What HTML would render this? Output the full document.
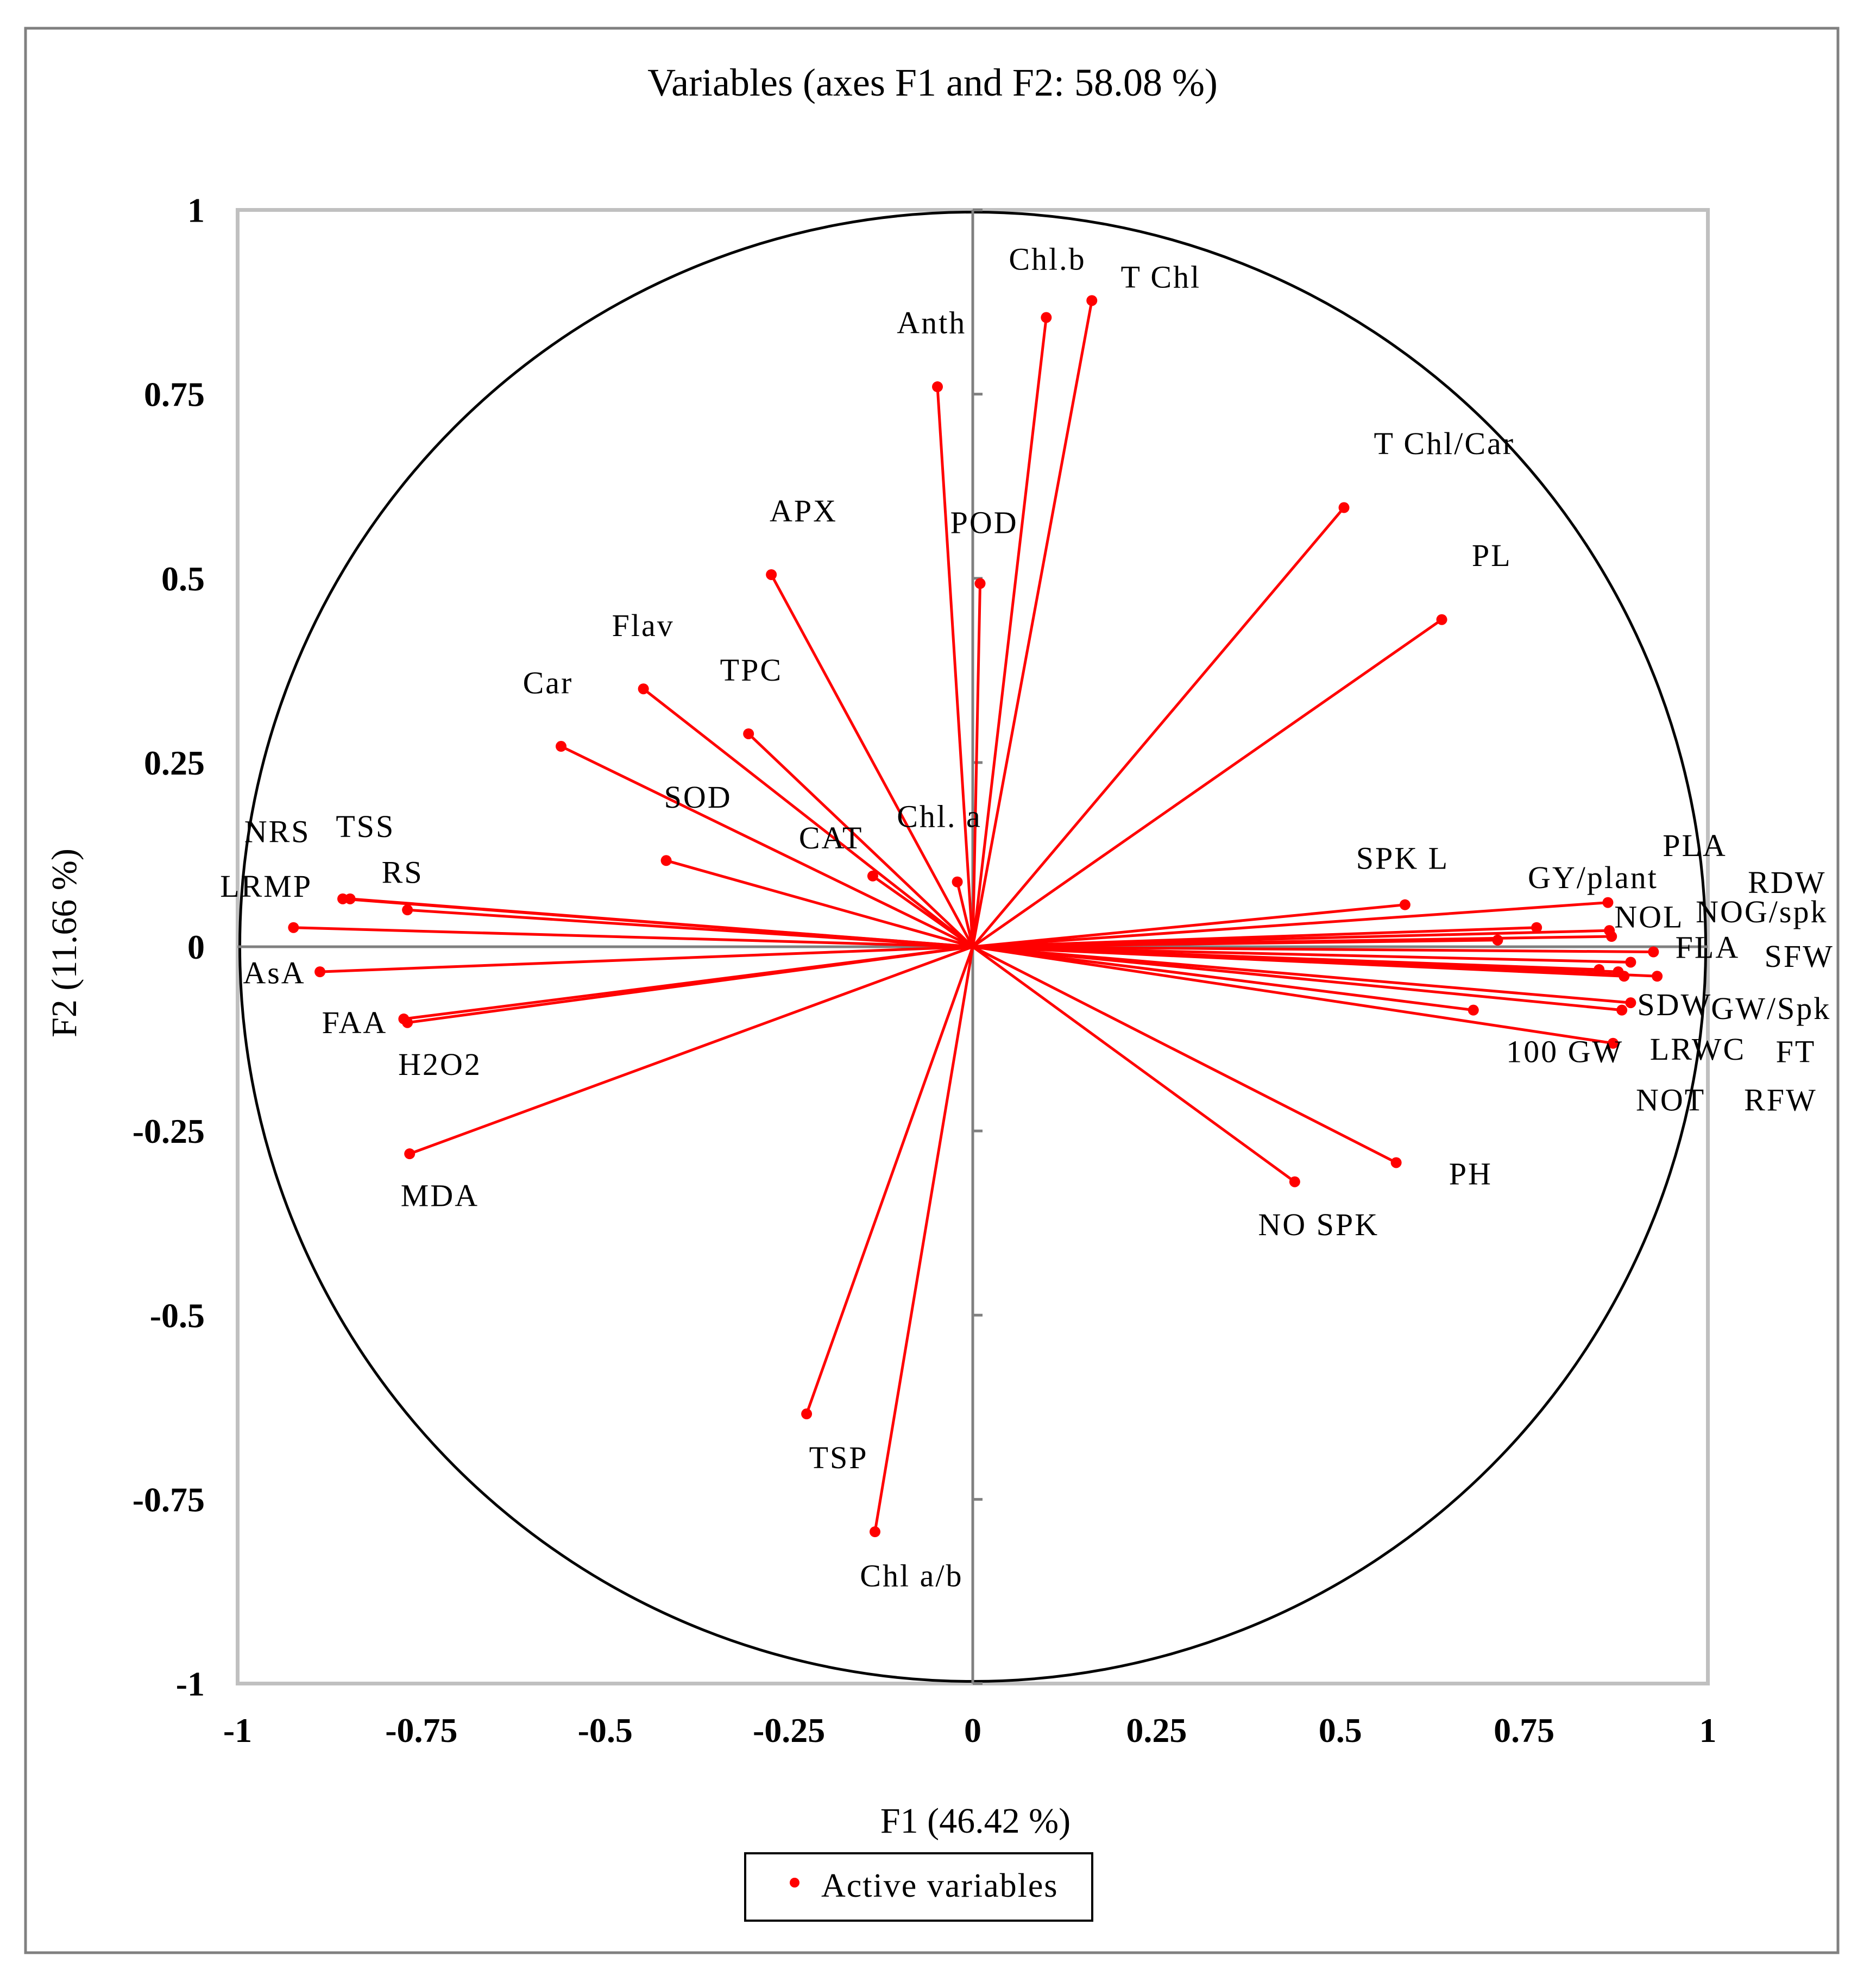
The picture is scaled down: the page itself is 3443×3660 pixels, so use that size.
<!DOCTYPE html>
<html><head><meta charset="utf-8"><style>
html,body{margin:0;padding:0;background:#fff}
svg{display:block}
text{font-family:"Liberation Serif",serif}
</style></head><body>
<svg id="chart" width="3443" height="3660" viewBox="0 0 3443 3660" xmlns="http://www.w3.org/2000/svg">
<rect x="47" y="52" width="3337" height="3543" fill="#fff" stroke="#808080" stroke-width="5"/>
<text x="1717" y="176" font-size="72" text-anchor="middle">Variables (axes F1 and F2: 58.08 %)</text>
<rect x="437.5" y="386.5" width="2707" height="2713" fill="none" stroke="#c0c0c0" stroke-width="7"/>
<g id="axes"></g>
<g id="marks"></g>
<g id="labels"></g>
<text x="1796" y="3374" font-size="66" text-anchor="middle">F1 (46.42 %)</text>
<text transform="translate(140,1736) rotate(-90)" font-size="66" text-anchor="middle">F2 (11.66 %)</text>
<g>
<rect x="1372" y="3412" width="639" height="124" fill="#fff" stroke="#000" stroke-width="4"/>
<circle cx="1463" cy="3466" r="9" fill="#ff0000"/>
<text x="1512" y="3492" font-size="62" letter-spacing="2">Active variables</text>
</g>
</svg>
<script>
const varNames = ["Chl.b","T Chl","Anth","T Chl/Car","PL","APX","POD","Flav","TPC","Car","SOD","CAT","Chl. a","NRS","TSS","RS","LRMP","AsA","FAA","H2O2","MDA","TSP","Chl a/b","NO SPK","PH","SPK L","GY/plant","PLA","RDW","NOL","NOG/spk","FLA","SFW","SDW","GW/Spk","100 GW","LRWC","FT","NOT","RFW"];
const f1Values = [0.100,0.162,-0.048,0.505,0.638,-0.274,0.010,-0.448,-0.305,-0.560,-0.417,-0.136,-0.021,-0.857,-0.847,-0.769,-0.924,-0.888,-0.774,-0.769,-0.766,-0.226,-0.133,0.438,0.576,0.588,0.864,0.767,0.714,0.866,0.869,0.926,0.895,0.852,0.878,0.886,0.931,0.895,0.883,0.681,0.871];
const f2Values = [0.854,0.877,0.760,0.596,0.444,0.505,0.493,0.350,0.289,0.272,0.117,0.096,0.088,0.065,0.065,0.050,0.026,-0.034,-0.098,-0.103,-0.281,-0.634,-0.794,-0.319,-0.293,0.057,0.060,0.026,0.009,0.022,0.014,-0.007,-0.021,-0.031,-0.034,-0.040,-0.040,-0.076,-0.086,-0.086,-0.131];
const xTicks = [-1,-0.75,-0.5,-0.25,0,0.25,0.5,0.75,1];
const yTicks = [1,0.75,0.5,0.25,0,-0.25,-0.5,-0.75,-1];
// label anchor positions (reference-image layout, left x / center y in 1470-wide coords)
const labelLayout = {"Chl.b":[793,206],"T Chl":[881,220],"Anth":[705,256],"T Chl/Car":[1080,351],"PL":[1157,439],"APX":[605,404],"POD":[747,413],"Flav":[481,494],"TPC":[566,529],"Car":[411,539],"SOD":[522,629],"CAT":[628,661],"Chl. a":[705,644],"NRS":[192,656],"TSS":[264,652],"RS":[300,688],"LRMP":[173,699],"AsA":[191,767],"FAA":[253,806],"H2O2":[313,839],"MDA":[315,942],"TSP":[636,1148],"Chl a/b":[676,1241],"NO SPK":[989,965],"PH":[1139,925],"SPK L":[1066,677],"GY/plant":[1201,692],"PLA":[1307,667],"RDW":[1374,696],"NOL":[1269,723],"NOG/spk":[1333,719],"FLA":[1317,747],"SFW":[1387,754],"SDW":[1287,792],"GW/Spk":[1345,795],"100 GW":[1184,829],"LRWC":[1297,827],"FT":[1396,829],"NOT":[1286,867],"RFW":[1371,867]};

const NS="http://www.w3.org/2000/svg";
const cx=1791, cy=1743, rx=1353.5, ry=1356.5;
const xs=v=>cx+v*rx, ys=v=>cy-v*ry;
function mk(tag,attrs,parent){const e=document.createElementNS(NS,tag);for(const k in attrs)e.setAttribute(k,attrs[k]);parent.appendChild(e);return e;}
const axes=document.getElementById('axes'), marks=document.getElementById('marks'), labels=document.getElementById('labels');

const circ=mk('ellipse',{cx:cx,cy:cy,rx:rx-4,ry:ry-4,fill:'none',stroke:'#000','stroke-width':5},axes);


const hx=mk('line',{x1:xs(-1),y1:cy,x2:xs(1),y2:cy,stroke:'#808080','stroke-width':5},axes);


const vy=mk('line',{x1:cx,y1:ys(1),x2:cx,y2:ys(-1),stroke:'#808080','stroke-width':5},axes);



yTicks.forEach(t=>{
  const tk=mk('line',{x1:cx,y1:ys(t),x2:cx+18,y2:ys(t),stroke:'#808080','stroke-width':5},axes);
  
  
  const tl=mk('text',{x:377,y:ys(t)+22,'font-size':64,'font-weight':'bold','text-anchor':'end'},axes);
  tl.textContent=String(t);
  
  
});
xTicks.forEach(t=>{
  const tl=mk('text',{x:xs(t),y:3207,'font-size':64,'font-weight':'bold','text-anchor':'middle'},axes);
  tl.textContent=String(t);
  
  
});

f1Values.forEach((v,i)=>{
  const x=xs(v), y=ys(f2Values[i]);
  const ln=mk('line',{x1:cx,y1:cy,x2:x,y2:y,stroke:'#ff0000','stroke-width':5},marks);
  
  
  const pt=mk('circle',{cx:x,cy:y,r:10,fill:'#ff0000'},marks);
  
  
});

const k=3443/1470;
varNames.forEach(n=>{
  const p=labelLayout[n];
  const t=mk('text',{x:p[0]*k,y:p[1]*k+14,'font-size':58,'letter-spacing':3},labels);
  t.textContent=n;
  
  
});
</script>
</body></html>
